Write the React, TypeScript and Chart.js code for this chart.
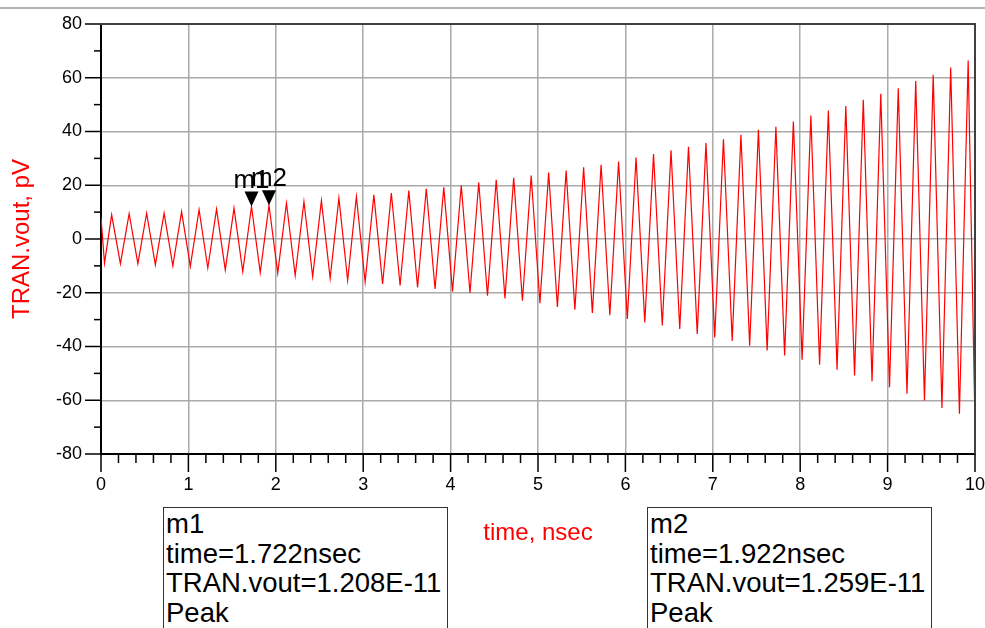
import React, { useEffect, useRef } from "react";
import { Chart, registerables } from "chart.js";

Chart.register(...registerables);

const FONT = '"Liberation Sans", Arial, Helvetica, sans-serif';

// ---- data (time in nsec, value in pV) ----
const startTime = 0;
const startValue = 8.1;
const endTime = 10;
const endValue = -68.5;

const troughTimes = [
  0.04, 0.222, 0.422, 0.622, 0.822, 1.022, 1.222, 1.422, 1.622, 1.822,
  2.022, 2.222, 2.422, 2.622, 2.822, 3.022, 3.222, 3.422, 3.622, 3.822,
  4.022, 4.222, 4.422, 4.622, 4.822, 5.022, 5.222, 5.422, 5.622, 5.822,
  6.022, 6.222, 6.422, 6.622, 6.822, 7.022, 7.222, 7.422, 7.622, 7.822,
  8.022, 8.222, 8.422, 8.622, 8.822, 9.022, 9.222, 9.422, 9.622, 9.822,
];
const troughValues = [
  -9.0, -9.2, -9.2, -9.6, -10.0, -10.2, -10.8, -11.5, -12.1, -12.5,
  -12.7, -13.6, -14.0, -14.6, -15.4, -16.0, -16.7, -17.3, -18.0, -18.6,
  -19.5, -20.1, -21.1, -22.1, -23.0, -23.9, -25.3, -26.3, -27.5, -28.4,
  -29.8, -31.1, -32.2, -33.5, -35.3, -36.6, -37.9, -39.7, -41.5, -43.3,
  -44.9, -46.8, -48.6, -50.8, -53.0, -55.2, -57.6, -60.1, -62.9, -65.0,
];
const peakTimes = [
  0.122, 0.322, 0.522, 0.722, 0.922, 1.122, 1.322, 1.522, 1.722, 1.922,
  2.122, 2.322, 2.522, 2.722, 2.922, 3.122, 3.322, 3.522, 3.722, 3.922,
  4.122, 4.322, 4.522, 4.722, 4.922, 5.122, 5.322, 5.522, 5.722, 5.922,
  6.122, 6.322, 6.522, 6.722, 6.922, 7.122, 7.322, 7.522, 7.722, 7.922,
  8.122, 8.322, 8.522, 8.722, 8.922, 9.122, 9.322, 9.522, 9.722, 9.922,
];
const peakValues = [
  9.0, 9.4, 9.6, 9.6, 10.2, 10.9, 11.1, 11.5, 12.08, 12.59,
  13.3, 13.9, 14.3, 15.2, 15.8, 16.4, 17.1, 18.0, 18.7, 19.2,
  19.9, 21.0, 22.0, 22.8, 23.6, 24.7, 25.5, 26.7, 27.6, 28.8,
  30.3, 31.6, 33.0, 34.3, 35.7, 37.1, 38.8, 40.6, 41.8, 43.7,
  45.9, 47.8, 49.5, 51.8, 54.0, 56.1, 58.8, 61.1, 63.8, 66.4,
];

const xTickValues = [0, 1, 2, 3, 4, 5, 6, 7, 8, 9, 10];
const yTickValues = [-80, -60, -40, -20, 0, 20, 40, 60, 80];
const xMinorTicks = [
  0, 0.2, 0.4, 0.6, 0.8, 1, 1.2, 1.4, 1.6, 1.8, 2, 2.2, 2.4, 2.6, 2.8, 3, 3.2, 3.4, 3.6, 3.8,
  4, 4.2, 4.4, 4.6, 4.8, 5, 5.2, 5.4, 5.6, 5.8, 6, 6.2, 6.4, 6.6, 6.8, 7, 7.2, 7.4, 7.6, 7.8,
  8, 8.2, 8.4, 8.6, 8.8, 9, 9.2, 9.4, 9.6, 9.8, 10,
];
const yMinorTicks = [-80, -70, -60, -50, -40, -30, -20, -10, 0, 10, 20, 30, 40, 50, 60, 70, 80];

const markerNames = ["m1", "m2"];
const markerTimes = [1.722, 1.922];
const markerValues = [12.08, 12.59];
const markerReadouts = ["1.208E-11", "1.259E-11"];
const markerKinds = ["Peak", "Peak"];

const xTitle = "time, nsec";
const yTitle = "TRAN.vout, pV";

function buildPoints() {
  const pts: { x: number; y: number }[] = [{ x: startTime, y: startValue }];
  for (let i = 0; i < troughTimes.length; i++) {
    pts.push({ x: troughTimes[i], y: troughValues[i] });
    pts.push({ x: peakTimes[i], y: peakValues[i] });
  }
  pts.push({ x: endTime, y: endValue });
  return pts;
}

const decorPlugin = {
  id: "decor",
  afterDraw(chart: any) {
    const { ctx, chartArea, scales } = chart;
    const { left, right, top, bottom } = chartArea;
    const xs = scales.x;
    const ys = scales.y;
    ctx.save();
    ctx.strokeStyle = "#000";
    ctx.lineWidth = 1.5;
    xMinorTicks.forEach((v) => {
      const px = xs.getPixelForValue(v);
      const major = xTickValues.includes(v);
      ctx.beginPath();
      ctx.moveTo(px, bottom);
      ctx.lineTo(px, bottom + (major ? 18 : 9));
      ctx.stroke();
    });
    yMinorTicks.forEach((v) => {
      const py = ys.getPixelForValue(v);
      const major = yTickValues.includes(v);
      ctx.beginPath();
      ctx.moveTo(left, py);
      ctx.lineTo(left - (major ? 16 : 7), py);
      ctx.stroke();
    });
    ctx.strokeStyle = "#404040";
    ctx.lineWidth = 2;
    ctx.beginPath();
    ctx.moveTo(left - 16, top);
    ctx.lineTo(right, top);
    ctx.lineTo(right, bottom);
    ctx.stroke();

    // markers
    ctx.fillStyle = "#000";
    ctx.font = `26px ${FONT}`;
    ctx.textAlign = "center";
    ctx.textBaseline = "alphabetic";
    markerNames.forEach((name, i) => {
      const px = xs.getPixelForValue(markerTimes[i]);
      const py = ys.getPixelForValue(markerValues[i]);
      ctx.beginPath();
      ctx.moveTo(px - 7, py - 15);
      ctx.lineTo(px + 7, py - 15);
      ctx.lineTo(px, py);
      ctx.closePath();
      ctx.fill();
      ctx.fillText(name, px, py - 19);
    });
    ctx.restore();
  },
};

export default function App() {
  const ref = useRef<HTMLCanvasElement>(null);

  useEffect(() => {
    if (!ref.current) return;
    const chart = new Chart(ref.current, {
      type: "line",
      data: {
        datasets: [
          {
            data: buildPoints(),
            borderColor: "#ff0000",
            borderWidth: 1.2,
            pointRadius: 0,
            tension: 0,
            fill: false,
          },
        ],
      },
      options: {
        animation: false,
        responsive: false,
        maintainAspectRatio: false,
        layout: { padding: { left: 0, top: 24, right: 10, bottom: 0 } },
        plugins: { legend: { display: false }, tooltip: { enabled: false } },
        scales: {
          x: {
            type: "linear",
            min: 0,
            max: 10,
            afterFit: (s: any) => {
              s.height = 174;
            },
            afterBuildTicks: (s: any) => {
              s.ticks = xTickValues.map((v) => ({ value: v }));
            },
            grid: {
              color: "#aaaaaa",
              lineWidth: 1.5,
              drawTicks: true,
              tickLength: 20,
              tickColor: "rgba(0,0,0,0)",
            },
            border: { color: "#000", width: 2 },
            ticks: {
              color: "#000",
              font: { family: FONT, size: 18 },
              padding: 0,
              autoSkip: false,
              maxRotation: 0,
            },
            title: {
              display: true,
              text: xTitle,
              color: "#ff0000",
              font: { family: FONT, size: 24 },
              padding: { top: 0, bottom: 80 },
            },
          },
          y: {
            type: "linear",
            min: -80,
            max: 80,
            afterFit: (s: any) => {
              s.width = 101;
            },
            afterBuildTicks: (s: any) => {
              s.ticks = yTickValues.map((v) => ({ value: v }));
            },
            grid: {
              color: "#aaaaaa",
              lineWidth: 1.5,
              drawTicks: true,
              tickLength: 19,
              tickColor: "rgba(0,0,0,0)",
            },
            border: { color: "#000", width: 2 },
            ticks: {
              color: "#000",
              font: { family: FONT, size: 18 },
              padding: 0,
              autoSkip: false,
            },
            title: {
              display: true,
              text: yTitle,
              color: "#ff0000",
              font: { family: FONT, size: 24 },
              padding: { top: 8, bottom: 0 },
            },
          },
        },
      },
      plugins: [decorPlugin],
    } as any);
    return () => chart.destroy();
  }, []);

  const boxLefts = [163, 647];

  return (
    <div
      style={{
        position: "fixed",
        left: 0,
        top: 0,
        width: 985,
        height: 628,
        background: "#fff",
        overflow: "hidden",
      }}
    >
      <div
        style={{ position: "absolute", left: 0, top: 7, width: 985, height: 2, background: "#b4b4b4" }}
      />
      <canvas
        ref={ref}
        width={985}
        height={628}
        style={{ position: "absolute", left: 0, top: 0, width: 985, height: 628 }}
      />
      {markerNames.map((name, i) => (
        <div
          key={name}
          style={{
            position: "absolute",
            left: boxLefts[i],
            top: 507,
            width: 285,
            height: 140,
            boxSizing: "border-box",
            border: "1px solid #333",
            background: "#fff",
            fontFamily: FONT,
            fontSize: 27.5,
            lineHeight: "29.5px",
            padding: "1px 0 0 2px",
            color: "#000",
            whiteSpace: "nowrap",
          }}
        >
          <div>{name}</div>
          <div>time={markerTimes[i].toFixed(3)}nsec</div>
          <div>TRAN.vout={markerReadouts[i]}</div>
          <div>{markerKinds[i]}</div>
        </div>
      ))}
    </div>
  );
}
